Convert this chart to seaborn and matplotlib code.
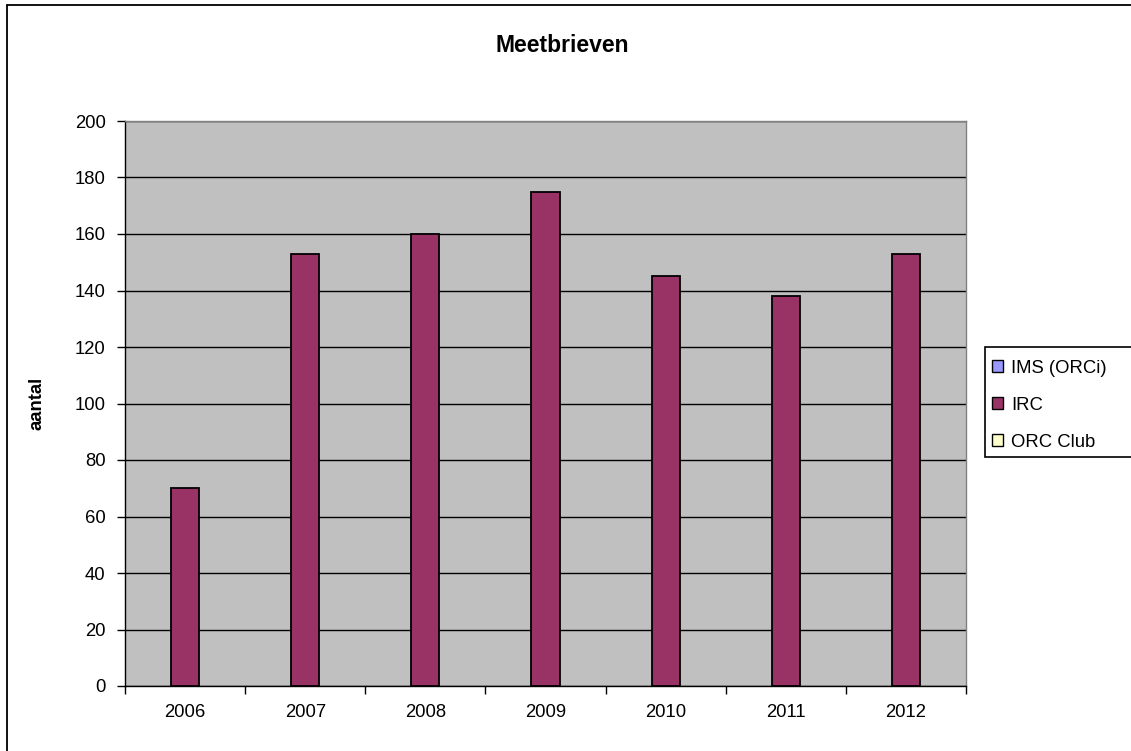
import matplotlib
matplotlib.use("Agg")
import matplotlib.pyplot as plt
from matplotlib.patches import Patch, Rectangle
from matplotlib.lines import Line2D
import seaborn as sns
import pandas as pd

# Data
years = ["2006", "2007", "2008", "2009", "2010", "2011", "2012"]
series = ["IMS (ORCi)", "IRC", "ORC Club"]
ims_values = [0, 0, 0, 0, 0, 0, 0]
irc_values = [70, 153, 160, 175, 145, 138, 153]
orc_club_values = [0, 0, 0, 0, 0, 0, 0]
y_ticks = [0, 20, 40, 60, 80, 100, 120, 140, 160, 180, 200]

colors = {"IMS (ORCi)": "#9999FF", "IRC": "#993366", "ORC Club": "#FFFFCC"}

rows = []
for name, vals in zip(series, [ims_values, irc_values, orc_club_values]):
    for yr, v in zip(years, vals):
        rows.append({"jaar": yr, "reeks": name, "aantal": v})
df = pd.DataFrame(rows)

sns.set_theme(style="white")
plt.rcParams["font.family"] = ["Liberation Sans", "DejaVu Sans"]
for key in ["text.color", "axes.labelcolor", "xtick.color", "ytick.color"]:
    plt.rcParams[key] = "black"

FS = 13.3

W, H = 1131, 751
fig = plt.figure(figsize=(W / 100, H / 100), dpi=100)
ax = fig.add_axes([125 / W, 1 - 686 / H, (966 - 125) / W, (686 - 121) / H])
ax.set_facecolor("#C0C0C0")

sns.barplot(data=df, x="jaar", y="aantal", hue="reeks", order=years,
            hue_order=series, palette=colors, width=0.7, edgecolor="black",
            linewidth=1.3, saturation=1, legend=False, ax=ax, zorder=3)

# empty series are not drawn
for p in ax.patches:
    if p.get_height() == 0:
        p.set_visible(False)

ax.set_ylim(0, 200)
ax.set_xlim(-0.5, len(years) - 0.5)
ax.set_yticks(y_ticks)
ax.yaxis.grid(True, color="black", linewidth=1.0, zorder=0)
ax.set_axisbelow(True)

ax.set_xticks(range(len(years)))
ax.set_xticklabels(years)
ax.set_xticks([i - 0.5 for i in range(len(years) + 1)], minor=True)
ax.tick_params(axis="x", which="major", length=0, pad=13, labelsize=FS)
ax.tick_params(axis="x", which="minor", length=6, width=1, color="black",
               direction="out", bottom=True)
ax.tick_params(axis="y", length=6, width=1, color="black", direction="out",
               left=True, pad=8, labelsize=FS)

for s in ["left", "bottom"]:
    ax.spines[s].set_color("black")
    ax.spines[s].set_linewidth(1.0)
for s in ["top", "right"]:
    ax.spines[s].set_color("#808080")
    ax.spines[s].set_linewidth(1.0)

ax.set_xlabel("")
ax.set_ylabel("aantal", fontsize=FS, fontweight="bold")
ax.yaxis.set_label_coords((45 - 125) / (966 - 125), 0.5)

fig.text(562 / W, 1 - 45 / H, "Meetbrieven", ha="center", va="center",
         fontsize=16.5, fontweight="bold")

# outer chart border
fig.add_artist(Line2D([7 / W, 1.01], [1 - 5 / H, 1 - 5 / H],
                      transform=fig.transFigure, color="black", lw=1.3))
fig.add_artist(Line2D([7 / W, 7 / W], [1 - 5 / H, -0.01],
                      transform=fig.transFigure, color="black", lw=1.3))

# legend box
fig.add_artist(Rectangle((985 / W, 1 - 457 / H), (1160 - 985) / W,
                         (457 - 347) / H, transform=fig.transFigure,
                         facecolor="white", edgecolor="black", lw=1.2))
handles = [Patch(facecolor=colors[s], edgecolor="black", linewidth=1.0)
           for s in series]
leg = fig.legend(handles, series, loc="upper left",
                 bbox_to_anchor=(988 / W, 1 - 356 / H), frameon=False,
                 fontsize=FS, handlelength=0.62, handleheight=0.62,
                 handletextpad=0.43, labelspacing=1.08, borderpad=0.2,
                 borderaxespad=0)
leg.set_zorder(5)

fig.savefig("out.png", dpi=100, facecolor="white")
